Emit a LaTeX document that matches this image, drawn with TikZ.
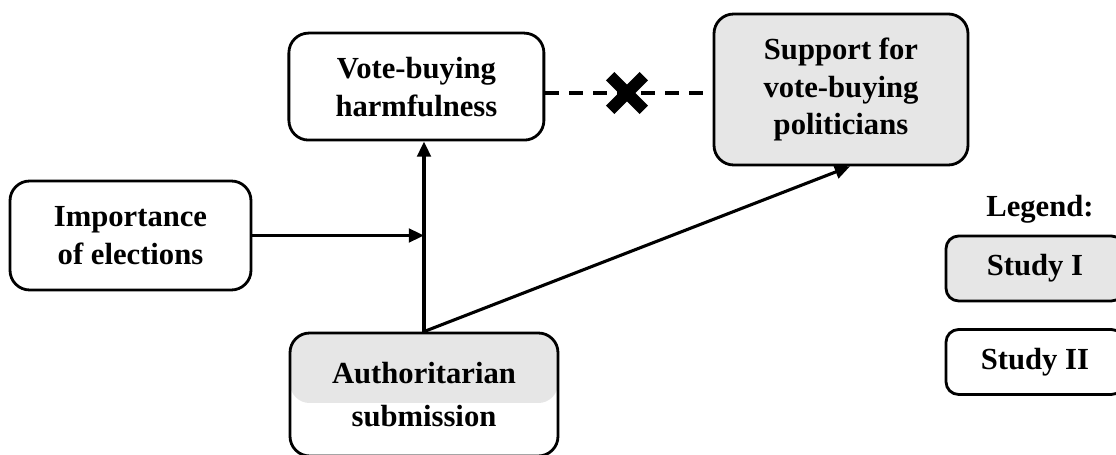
\documentclass[tikz,border=0pt]{standalone}
\usepackage{fontspec}
\setmainfont{Liberation Serif}
\usetikzlibrary{arrows.meta,calc,positioning}
\definecolor{studyF}{HTML}{E6E6E6}
\definecolor{lineC}{HTML}{000000}
\tikzset{
  box/.style={rounded corners=14pt, draw=lineC, line width=2pt, align=center, inner sep=4pt,
              font=\fontsize{21.8}{27}\selectfont\bfseries},
  stdyone/.style={box, fill=studyF},
  stdytwo/.style={box, fill=white},
  legbox/.style={rounded corners=9pt, minimum width=4.45cm, minimum height=1.625cm},
  arr/.style={-{Triangle[length=0.38cm,width=0.34cm]}, draw=lineC, line width=2.2pt},
  nolink/.style={draw=lineC, line width=3.5pt, dash pattern=on 0.35cm off 0.25cm},
  lab/.style={font=\fontsize{21.8}{27}\selectfont\bfseries},
}
\begin{document}
\begin{tikzpicture}
\useasboundingbox (0,0) rectangle (27.9,11.375);
\node[stdytwo, minimum width=6.375cm, minimum height=2.675cm] (harm) at (10.41,9.21) {Vote-buying\\harmfulness};
\node[stdyone, minimum width=6.35cm, minimum height=3.775cm] (supp) at (21.025,9.1375) {Support for\\vote-buying\\politicians};
\node[stdytwo, minimum width=6.025cm, minimum height=2.725cm] (imp) at (3.2625,5.4875) {Importance\\of elections};
\node[stdytwo, minimum width=6.7cm, minimum height=3.075cm,
      path picture={\fill[studyF] (path picture bounding box.north west) rectangle ([yshift=-1.75cm]path picture bounding box.north east);}]
      (auth) at (10.6,1.5125) {Authoritarian\\[4pt]submission};
% legend
\node[lab] (leg) at (26.0,6.15) {Legend:};
\node[stdyone, legbox] (s1) at (25.875,4.6625) {Study I};
\node[stdytwo, legbox] (s2) at (25.875,2.325) {Study II};
% links
\draw[arr] (auth.north) -- (auth.north |- harm.south);
\draw[arr] (imp.east) -- (imp.east -| auth.north);
\draw[arr] (auth.north) -- ([xshift=0.225cm]supp.south);
\coordinate (cross) at (15.675,9.05);
\draw[nolink] (harm.east |- cross) -- (supp.west |- cross);
\draw[line width=0.3cm] (cross) ++(-0.42,-0.42) -- ++(0.84,0.84);
\draw[line width=0.3cm] (cross) ++(-0.42,0.42) -- ++(0.84,-0.84);
\end{tikzpicture}
\end{document}
